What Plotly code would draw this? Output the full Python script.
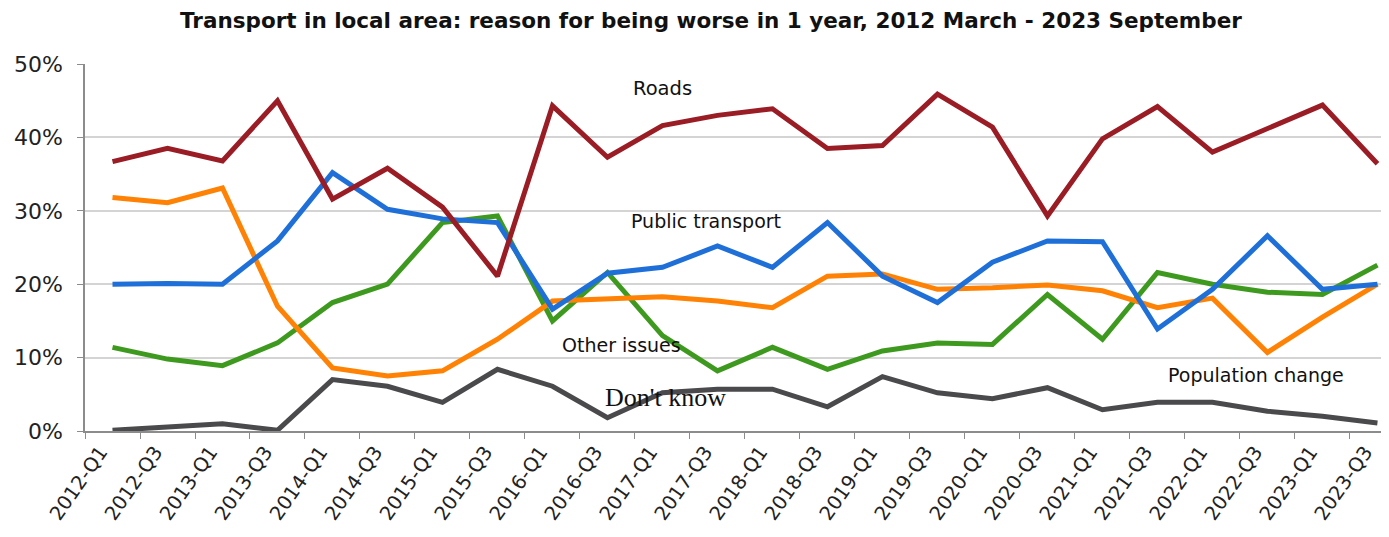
import plotly.graph_objects as go

categories = ["2012-Q1", "2012-Q3", "2013-Q1", "2013-Q3", "2014-Q1", "2014-Q3",
              "2015-Q1", "2015-Q3", "2016-Q1", "2016-Q3", "2017-Q1", "2017-Q3",
              "2018-Q1", "2018-Q3", "2019-Q1", "2019-Q3", "2020-Q1", "2020-Q3",
              "2021-Q1", "2021-Q3", "2022-Q1", "2022-Q3", "2023-Q1", "2023-Q3"]

roads = [36.7, 38.5, 36.8, 45.0, 31.6, 35.8, 30.5, 21.1, 44.3, 37.3, 41.6, 43.0,
         43.9, 38.5, 38.9, 45.9, 41.4, 29.3, 39.8, 44.2, 38.0, 41.2, 44.4, 36.4]
public_transport = [20.0, 20.1, 20.0, 25.9, 35.2, 30.2, 28.9, 28.4, 16.6, 21.5, 22.3, 25.2,
                    22.3, 28.4, 21.1, 17.5, 23.0, 25.9, 25.8, 13.9, 19.3, 26.6, 19.3, 20.0]
population_change = [31.8, 31.1, 33.1, 17.0, 8.6, 7.5, 8.2, 12.5, 17.7, 18.0, 18.3, 17.7,
                     16.8, 21.1, 21.4, 19.3, 19.5, 19.9, 19.1, 16.8, 18.1, 10.7, 15.5, 20.0]
other_issues = [11.4, 9.8, 8.9, 12.0, 17.5, 20.0, 28.4, 29.3, 15.0, 21.6, 13.0, 8.2,
                11.4, 8.4, 10.9, 12.0, 11.8, 18.6, 12.5, 21.6, 20.0, 18.9, 18.6, 22.6]
dont_know = [0.1, 0.6, 1.0, 0.1, 7.0, 6.1, 3.9, 8.4, 6.1, 1.8, 5.2, 5.7,
             5.7, 3.3, 7.4, 5.2, 4.4, 5.9, 2.9, 3.9, 3.9, 2.7, 2.0, 1.1]

series = [
    ("Don't know", dont_know, "#4a4a4c"),
    ("Other issues", other_issues, "#3e9a1f"),
    ("Population change", population_change, "#ff8205"),
    ("Public transport", public_transport, "#1f6fd9"),
    ("Roads", roads, "#9a1c24"),
]

fig = go.Figure()
for name, vals, color in series:
    fig.add_trace(go.Scatter(x=categories, y=vals, name=name, mode="lines",
                             line=dict(color=color, width=5), showlegend=False))

font_main = "'DejaVu Sans', Verdana, sans-serif"
font_serif = "'Liberation Serif', 'Times New Roman', serif"

labels = [
    ("Roads", 10.0, 46.6, font_main, 19.5),
    ("Public transport", 10.8, 28.6, font_main, 19),
    ("Other issues", 9.26, 11.7, font_main, 19),
    ("Don't know", 10.05, 4.6, font_serif, 26),
    ("Population change", 20.8, 7.6, font_main, 19),
]
for text, xi, yi, fnt, sz in labels:
    fig.add_annotation(x=xi, y=yi, xref="x", yref="y", text=text, showarrow=False,
                       font=dict(family=fnt, size=sz, color="#111111"))

# the page body adds an 8px offset, so the figure is sized/margined to compensate
fig.update_layout(
    width=1381, height=529,
    margin=dict(l=77, r=0, t=56, b=106),
    paper_bgcolor="white", plot_bgcolor="white",
    title=dict(text="<b>Transport in local area: reason for being worse in 1 year, 2012 March - 2023 September</b>",
               x=0.509, xanchor="center", y=0.977, yanchor="middle",
               font=dict(family=font_main, size=21.5, color="#111111")),
    font=dict(family=font_main, color="#222222"),
)
fig.update_xaxes(type="category", range=[-0.5, 23.21], tickangle=-55, automargin=False,
                 ticks="outside", tickson="boundaries", ticklen=6, tickcolor="#8c8c8c",
                 ticklabelshift=-12,
                 showline=True, linecolor="#8c8c8c", linewidth=1.5, showgrid=False,
                 tickfont=dict(size=19.5, color="#222222"))
fig.update_yaxes(range=[0, 50], dtick=10, ticksuffix="%", ticks="outside", ticklen=6,
                 automargin=False, ticklabelstandoff=10,
                 tickcolor="#8c8c8c", showline=True, linecolor="#8c8c8c", linewidth=1.5,
                 showgrid=True, gridcolor="#d4d4d4", gridwidth=1.5, zeroline=False,
                 tickfont=dict(size=22, color="#222222"))

fig.write_html("out.html")
